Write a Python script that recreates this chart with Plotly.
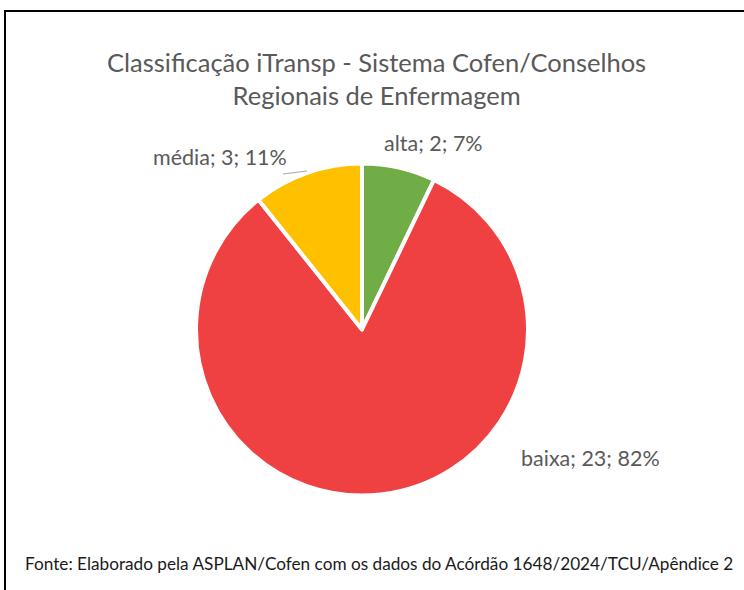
import plotly.graph_objects as go

categories = ["alta", "baixa", "média"]
values = [2, 23, 3]
percents = ["7%", "82%", "11%"]
colors = ["#70AD47", "#F04142", "#FFC000"]
title_text = "Classificação iTransp - Sistema Cofen/Conselhos<br>Regionais de Enfermagem"
source_text = "Fonte: Elaborado pela ASPLAN/Cofen com os dados do Acórdão 1648/2024/TCU/Apêndice 2"

W, H = 744, 590
FONT = "Lato"
GRAY = "#595959"

fig = go.Figure()
fig.add_trace(go.Pie(
    labels=categories,
    values=values,
    sort=False,
    direction="clockwise",
    rotation=0,
    marker=dict(colors=colors, line=dict(color="white", width=4)),
    textinfo="none",
    hoverinfo="label+value+percent",
    showlegend=False,
    domain=dict(x=[196 / W, 528 / W], y=[(H - 496) / H, (H - 163) / H]),
))

label_pos = {"alta": (433, 143), "baixa": (590, 458), "média": (220, 157)}
for c, v, p in zip(categories, values, percents):
    px, py = label_pos[c]
    fig.add_annotation(
        x=px / W, y=1 - py / H, xref="paper", yref="paper",
        text=f"{c}; {v}; {p}", showarrow=False,
        xanchor="center", yanchor="middle",
        font=dict(family=FONT, size=21.5, color=GRAY),
    )

fig.add_annotation(
    x=376 / W, y=1 - 78 / H, xref="paper", yref="paper",
    text=title_text, showarrow=False, xanchor="center", yanchor="middle",
    font=dict(family=FONT, size=25.5, color=GRAY),
)
fig.add_annotation(
    x=379 / W, y=1 - 563 / H, xref="paper", yref="paper",
    text=source_text, showarrow=False, xanchor="center", yanchor="middle",
    font=dict(family=FONT, size=17.2, color="#1a1a1a"),
)

# leader line for média label
fig.add_shape(type="line", xref="paper", yref="paper",
              x0=283 / W, y0=1 - 174 / H, x1=307 / W, y1=1 - 171 / H,
              line=dict(color="#A6A6A6", width=1))
# outer frame (top and left edges visible)
fig.add_shape(type="line", xref="paper", yref="paper",
              x0=4 / W, y0=1 - 11 / H, x1=1, y1=1 - 11 / H,
              line=dict(color="black", width=2))
fig.add_shape(type="line", xref="paper", yref="paper",
              x0=5 / W, y0=1 - 10 / H, x1=5 / W, y1=0,
              line=dict(color="black", width=2))

fig.update_layout(
    width=W, height=H,
    margin=dict(l=0, r=0, t=0, b=0),
    paper_bgcolor="white", plot_bgcolor="white",
)
fig.write_html("out.html", config={"displayModeBar": False})

with open("out.html", "r", encoding="utf-8") as f:
    html = f.read()
html = html.replace("<head>", "<head><style>html,body{margin:0;padding:0;overflow:hidden}</style>", 1)
with open("out.html", "w", encoding="utf-8") as f:
    f.write(html)
